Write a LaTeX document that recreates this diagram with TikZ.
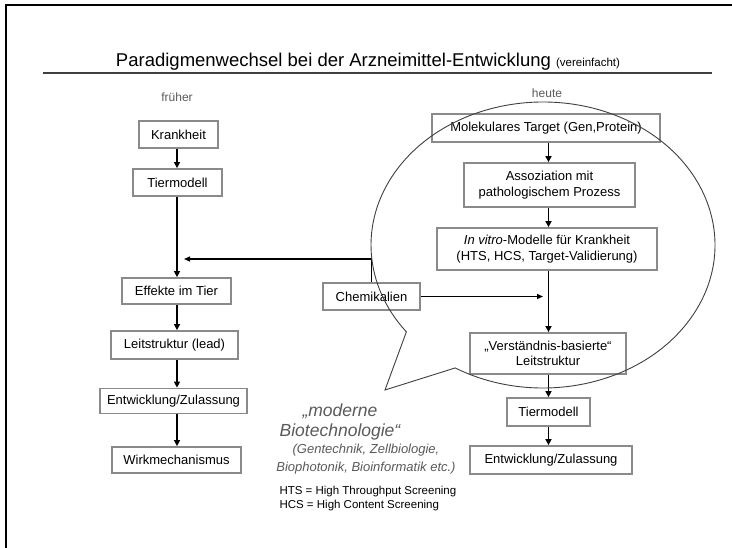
\documentclass[tikz,border=0pt]{standalone}
\usepackage{fontspec}
\setmainfont{Liberation Sans}
\usetikzlibrary{arrows.meta}
\definecolor{boxgray}{HTML}{8A8A8A}
\definecolor{txtgray}{HTML}{5A5A5A}
\definecolor{rulegray}{HTML}{404040}
\begin{document}
\begin{tikzpicture}[x=1pt,y=-1pt,
  box/.style={draw=boxgray, line width=1.8pt, fill=white, inner sep=0pt, align=center, font=\fontsize{13}{15.5}\selectfont},
  arr/.style={draw=black, line width=1.7pt, -{Triangle[length=6pt,width=6pt]}},
  harr/.style={draw=black, line width=1.3pt, -{Triangle[length=6pt,width=5pt]}},
  lbl/.style={font=\fontsize{12}{14}\selectfont, text=txtgray},
  ellline/.style={draw=rulegray, line width=0.9pt, line join=miter}]
\useasboundingbox (0,0) rectangle (732,548);
\fill[white] (0,0) rectangle (732,548);
\draw[line width=2pt, line join=miter] (5.5,548) -- (5.5,5) -- (732,5);
% title
\node[font=\fontsize{18.5}{22}\selectfont] (title) at (368,62) {Paradigmenwechsel bei der Arzneimittel-Entwicklung {\fontsize{11.5}{14}\selectfont (vereinfacht)}};
\draw[line width=2pt, draw=rulegray] (43,73) -- (712,73);
\node[lbl] (frueher) at (177,97) {früher};
\node[lbl] (heute) at (547,93) {heute};
% left column
\coordinate (lx) at (177,0);
\node[box, minimum width=79pt, minimum height=27pt] (k) at (178.5,134.5) {Krankheit};
\node[box, minimum width=89pt, minimum height=27pt] (t1) at (177.5,182.5) {Tiermodell};
\node[box, minimum width=109pt, minimum height=26pt] (e) at (176.5,291) {Effekte im Tier};
\node[box, minimum width=127pt, minimum height=28pt] (l) at (174.5,345) {Leitstruktur (lead)};
\node[box, minimum width=147pt, minimum height=25pt] (z1) at (173.5,401) {Entwicklung/Zulassung};
\node[box, minimum width=129pt, minimum height=26pt] (w) at (176.5,460) {Wirkmechanismus};
\draw[arr] (k.south -| lx) -- (t1.north -| lx);
\draw[arr] (t1.south -| lx) -- (e.north -| lx);
\draw[arr] (e.south -| lx) -- (l.north -| lx);
\draw[arr] (l.south -| lx) -- (z1.north -| lx);
\draw[arr] (z1.south -| lx) -- (w.north -| lx);
% right column
\coordinate (rx) at (548.5,0);
\node[box, minimum width=228pt, minimum height=28pt] (m) at (546,128) {Molekulares Target (Gen,Protein)};
\node[box, minimum width=171pt, minimum height=44pt] (a) at (549.5,185) {Assoziation mit\\pathologischem Prozess};
\node[box, minimum width=220pt, minimum height=42pt] (iv) at (547,249) {\textit{In vitro}-Modelle für Krankheit\\(HTS, HCS, Target-Validierung)};
\node[box, minimum width=156pt, minimum height=41pt] (v) at (548,353.5) {„Verständnis-basierte“\\Leitstruktur};
\node[box, minimum width=83pt, minimum height=28pt] (t2) at (548.5,412) {Tiermodell};
\node[box, minimum width=162pt, minimum height=28pt] (z2) at (551,460) {Entwicklung/Zulassung};
\draw[arr] (m.south -| rx) -- (a.north -| rx);
\draw[arr] (a.south -| rx) -- (iv.north -| rx);
\draw[arr] (iv.south -| rx) -- (v.north -| rx);
\draw[arr] (v.south -| rx) -- (t2.north -| rx);
\draw[arr] (t2.south -| rx) -- (z2.north -| rx);
% Chemikalien
\node[box, minimum width=97pt, minimum height=27pt] (c) at (371.5,296.5) {Chemikalien};
\coordinate (lefttip) at (184,259);
\coordinate (righttip) at (543,296.5);
\draw[harr] (c.north) |- (lefttip);
\draw[harr] (c.east) -- (righttip);
% callout ellipse
\coordinate (ec) at (543,245);
\coordinate (tip) at (385,390);
\draw[ellline] (ec) ++(239.3:172pt and 143pt) arc[start angle=239.3, end angle=577.4, x radius=172pt, y radius=143pt] -- (tip) -- cycle;
% texts
\node[font=\fontsize{17.5}{20}\selectfont\itshape, text=txtgray, align=center] (bt) at (340,422) {„moderne\\Biotechnologie“};
\node[font=\fontsize{13}{18}\selectfont\itshape, text=txtgray, align=center] (st) at (366,459) {(Gentechnik, Zellbiologie,\\Biophotonik, Bioinformatik etc.)};
\node[font=\fontsize{11.5}{14}\selectfont, anchor=west, align=left] (hts) at (276,499) {HTS = High Throughput Screening\\HCS = High Content Screening};
\end{tikzpicture}
\end{document}
